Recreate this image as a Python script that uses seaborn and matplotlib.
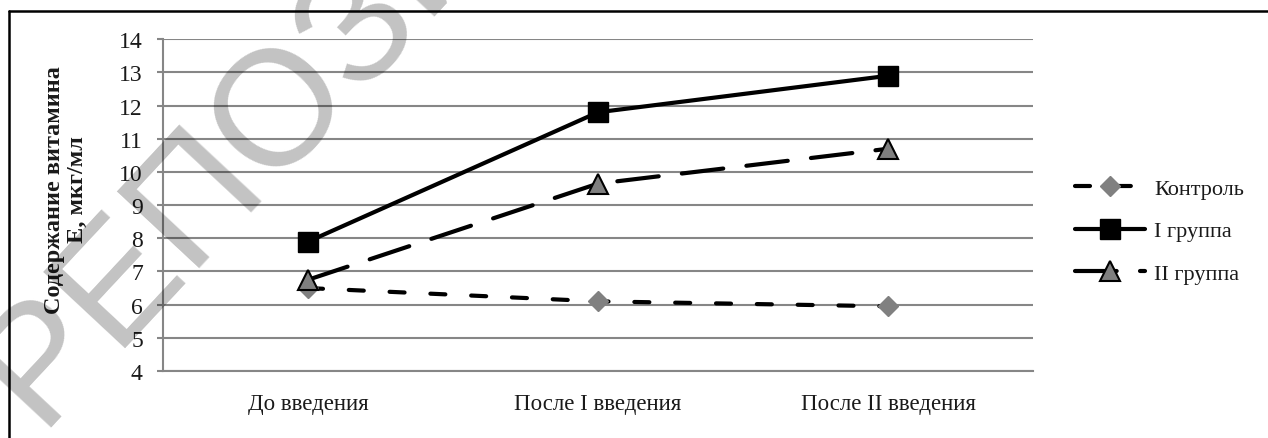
import matplotlib
matplotlib.use("Agg")
import matplotlib.pyplot as plt
from matplotlib.lines import Line2D
import seaborn as sns
import pandas as pd

# Data
stages = ["До введения", "После I введения", "После II введения"]
control = [6.5, 6.1, 5.95]
group_1 = [7.9, 11.8, 12.9]
group_2 = [6.75, 9.65, 10.7]
series_names = ["Контроль", "I группа", "II группа"]
y_ticks = list(range(4, 15))
y_label = "Содержание витамина\nЕ, мкг/мл"
watermark = "РЕПОЗИТОРИЙ"

sns.set_theme(style="white")
plt.rcParams["font.family"] = ["Liberation Serif", "DejaVu Serif"]

W, H = 1268, 439
fig = plt.figure(figsize=(W / 100, H / 100), dpi=100)
fig.patch.set_facecolor("white")

# plot area in pixel coordinates
left, right, top, bottom = 163, 1033, 40.3, 372
ax = fig.add_axes([left / W, 1 - bottom / H, (right - left) / W, (bottom - top) / H])
ax.set_facecolor("none")

grid_c = "#868686"
text_c = "#1a1a1a"

styles = [
    dict(values=control, marker="D", markersize=10, markerfacecolor="#808080",
         markeredgecolor="#808080", markeredgewidth=1.0,
         linestyle=(0, (3.6, 6.2)), dash_capstyle="round"),
    dict(values=group_1, marker="s", markersize=14, markerfacecolor="black",
         markeredgecolor="black", markeredgewidth=1.0, linestyle="-"),
    dict(values=group_2, marker="^", markersize=14, markerfacecolor="#7f7f7f",
         markeredgecolor="black", markeredgewidth=1.5,
         linestyle=(0, (10.0, 5.6)), dash_capstyle="round"),
]

for name, st in zip(series_names, styles):
    st = dict(st)
    vals = st.pop("values")
    df = pd.DataFrame({"stage": stages, "value": vals})
    sns.lineplot(data=df, x="stage", y="value", ax=ax, sort=False,
                 color="black", linewidth=3.0, label=name, legend=False, **st)

ax.set_xlim(-0.5, 2.5)
ax.set_ylim(4, 14)
ax.set_yticks(y_ticks)
ax.set_yticklabels([str(t) for t in y_ticks])
ax.set_xlabel("")
ax.set_ylabel("")

ax.grid(axis="y", color=grid_c, linewidth=1.5, zorder=0)
ax.set_axisbelow(True)
for s in ["top", "right"]:
    ax.spines[s].set_visible(False)
for s in ["left", "bottom"]:
    ax.spines[s].set_color(grid_c)
    ax.spines[s].set_linewidth(1.5)

ax.tick_params(axis="y", which="major", left=True, length=4.5, width=1.5,
               color=grid_c, pad=10, labelsize=17, labelcolor=text_c)
ax.tick_params(axis="x", which="major", bottom=False, length=0, pad=16,
               labelsize=16.5, labelcolor=text_c)

# y axis title
fig.text(66 / W, 1 - 190 / H, y_label, rotation=90, ha="center", va="center",
         multialignment="center", fontsize=17.5, fontweight="bold", color=text_c,
         linespacing=1.1)

# legend
leg = ax.legend(loc="center left", bbox_to_anchor=(1075 / W, 1 - 232 / H),
                bbox_transform=fig.transFigure, frameon=False, fontsize=16,
                handlelength=3.15, handletextpad=0.4, labelspacing=1.0,
                borderpad=0, borderaxespad=0, numpoints=1)
for t in leg.get_texts():
    t.set_color(text_c)

# outer frame (left and top edges)
fig.add_artist(Line2D([9 / W, 9 / W], [0, 1 - 12 / H], transform=fig.transFigure,
                      color="black", linewidth=1.8))
fig.add_artist(Line2D([9 / W, 1], [1 - 12 / H, 1 - 12 / H], transform=fig.transFigure,
                      color="black", linewidth=1.8))

# repository stamp
fig.text(38 / W, 1 - 428 / H, watermark, rotation=47, rotation_mode="anchor",
         ha="left", va="baseline", fontsize=118, color="black", alpha=0.24,
         family="Liberation Sans", zorder=10)

fig.savefig("out.png", dpi=100, facecolor="white")
